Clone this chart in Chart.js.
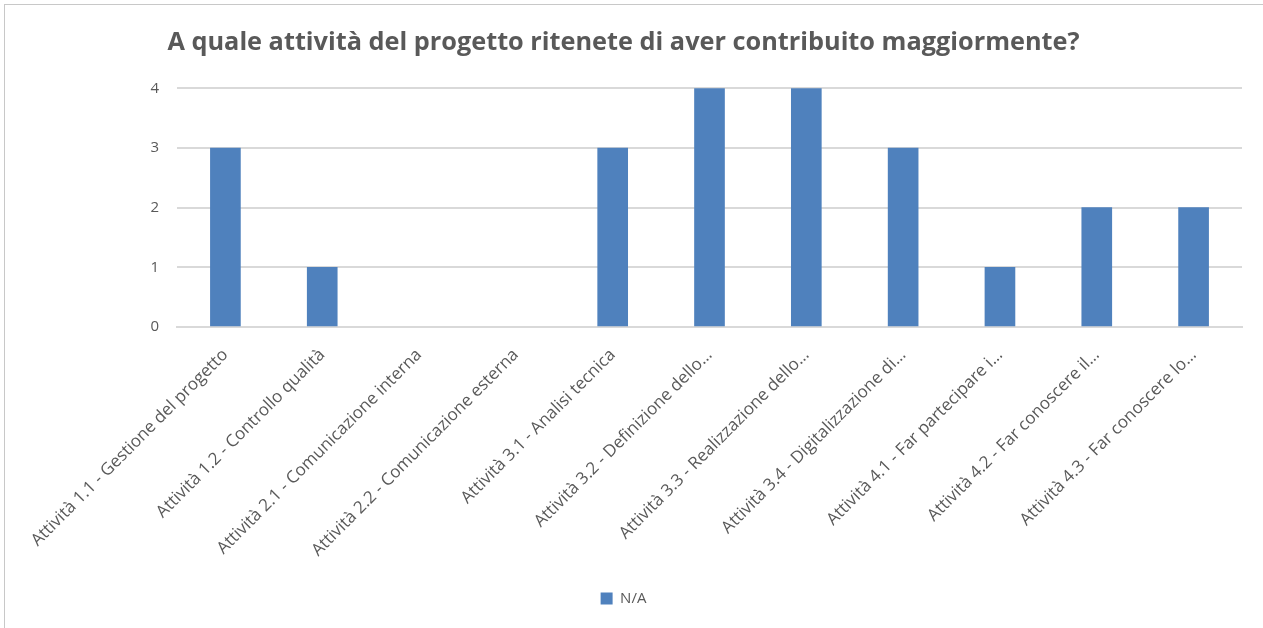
<!DOCTYPE html>
<html>
<head>
<meta charset="utf-8">
<script src="https://cdn.jsdelivr.net/npm/chart.js@4"></script>
<style>
  html, body { margin: 0; padding: 0; background: #fff; }
  #wrap {
    position: absolute; left: 4px; top: 4px; width: 1259px; height: 624px;
    border-left: 1px solid #c8c8c8; border-top: 1px solid #c8c8c8;
  }
  #chartCanvas { display: block; }
</style>
</head>
<body>
<div id="wrap"><canvas id="chartCanvas" width="1258" height="623"></canvas></div>
<script>
// data
const categories = [
  'Attività 1.1 - Gestione del progetto',
  'Attività 1.2 - Controllo qualità',
  'Attività 2.1 - Comunicazione interna',
  'Attività 2.2 - Comunicazione esterna',
  'Attività 3.1 - Analisi tecnica',
  'Attività 3.2 - Definizione dello…',
  'Attività 3.3 - Realizzazione dello…',
  'Attività 3.4 - Digitalizzazione di…',
  'Attività 4.1 - Far partecipare i…',
  'Attività 4.2 - Far conoscere il…',
  'Attività 4.3 - Far conoscere lo…'
];
const seriesName = 'N/A';
const seriesValues = [3, 1, 0, 0, 3, 4, 4, 3, 1, 2, 2];
const yTicks = [0, 1, 2, 3, 4];

const grey = '#595959';
const fontFamily = '"Open Sans", "Liberation Sans", sans-serif';

const ctx = document.getElementById('chartCanvas').getContext('2d');
const myChart = new Chart(ctx, {
  type: 'bar',
  data: {
    labels: categories,
    datasets: [{
      label: seriesName,
      data: seriesValues,
      // zero bars are not drawn at all in the original
      backgroundColor: c => (c.raw === 0 ? 'rgba(0,0,0,0)' : '#4f81bd'),
      borderWidth: 0,
      barThickness: 30
    }]
  },
  options: {
    responsive: false,
    animation: false,
    layout: { padding: { left: 0, right: 21, top: 0, bottom: 12 } },
    plugins: {
      title: {
        display: true,
        text: 'A quale attività del progetto ritenete di aver contribuito maggiormente?',
        color: grey,
        font: { family: fontFamily, size: 25.3, weight: 'bold' },
        padding: { top: 23, bottom: 30 }
      },
      legend: {
        position: 'bottom',
        labels: {
          color: grey,
          font: { family: fontFamily, size: 15 },
          boxWidth: 12,
          boxHeight: 12,
          padding: 10
        }
      },
      tooltip: { enabled: false }
    },
    scales: {
      x: {
        afterFit: axis => { axis.height = 254; },
        grid: { display: false },
        border: { display: true, color: '#d9d9d9', width: 2 },
        ticks: {
          color: grey,
          font: { family: fontFamily, size: 17 },
          minRotation: 45,
          maxRotation: 45,
          autoSkip: false,
          padding: 10
        }
      },
      y: {
        min: 0,
        max: 4,
        afterBuildTicks: axis => { axis.ticks = yTicks.map(v => ({ value: v })); },
        afterFit: axis => { axis.width = 172; },
        grid: { color: '#d9d9d9', lineWidth: 2, drawTicks: false },
        border: { display: false },
        ticks: {
          color: grey,
          font: { family: fontFamily, size: 15 },
          padding: 18
        }
      }
    }
  }
});
</script>
</body>
</html>
